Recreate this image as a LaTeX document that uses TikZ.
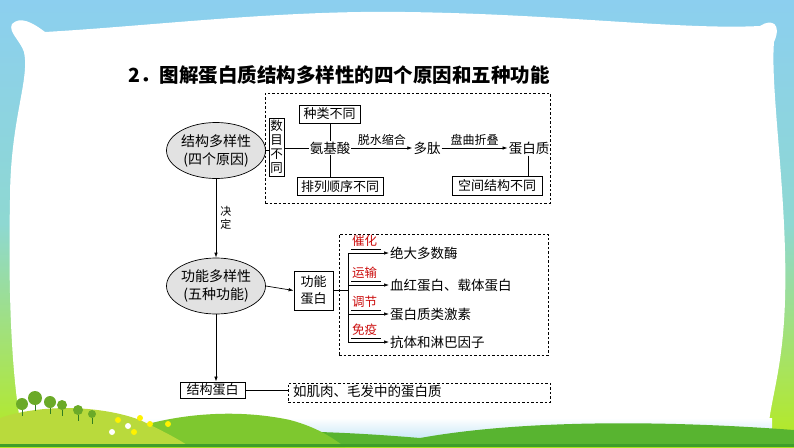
\documentclass[tikz,border=0pt]{standalone}
\usepackage{fontspec}
\setmainfont{Noto Sans CJK SC}
\usetikzlibrary{arrows.meta,shapes.geometric,calc}
\definecolor{sky}{HTML}{8CCFEF}
\definecolor{sidemid}{HTML}{8ED8D2}
\definecolor{lime}{HTML}{B6EA1E}
\definecolor{lbred}{HTML}{CC1010}
\definecolor{ellgray}{HTML}{E2E2E2}
\definecolor{hillA}{HTML}{B9DA3C}
\definecolor{hillB}{HTML}{7EC82F}
\definecolor{hillC}{HTML}{58B430}
\definecolor{hillD}{HTML}{3E9E2A}
\definecolor{skyband}{HTML}{C6E6F6}
\tikzset{
  ell/.style={ellipse,draw,line width=0.7pt,fill=ellgray,minimum width=88pt,minimum height=56pt,inner sep=0pt,align=center,font=\fontsize{14}{18}\selectfont},
  bx/.style={draw,line width=0.8pt,inner sep=0pt,align=center,font=\fontsize{13}{15}\selectfont},
  dbox/.style={draw,line width=0.7pt,dash pattern=on 2.5pt off 2pt,inner sep=0pt},
  txt/.style={inner sep=1pt,font=\fontsize{13.5}{15}\selectfont},
  lbl/.style={inner sep=0pt,font=\fontsize{12}{13}\selectfont},
  rlbl/.style={inner sep=0pt,text=lbred,font=\fontsize{12.5}{14}\selectfont},
  ln/.style={line width=0.7pt},
  arr/.style={line width=0.7pt,-{Latex[length=5pt,width=3.5pt]}},
}
\begin{document}
\begin{tikzpicture}[x=1pt,y=-1pt]
\useasboundingbox (0,0) rectangle (794,447);
% ---------- background ----------
\shade[top color=sky,bottom color=lime,middle color=sidemid] (0,0) rectangle (794,447);
\fill[white] (12,24) .. controls (20,16) and (32,22) .. (45,32)
  .. controls (150,26) and (280,10) .. (405,12)
  .. controls (560,14) and (680,30) .. (760,26)
  .. controls (772,18) and (782,24) .. (774,42)
  .. controls (770,90) and (788,200) .. (785,300)
  .. controls (783,370) and (770,400) .. (768,432)
  -- (22,432)
  .. controls (12,380) and (8,300) .. (10,200)
  .. controls (10,120) and (30,80) .. (24,52)
  .. controls (20,40) and (8,32) .. (12,24) -- cycle;
\shade[top color=white,bottom color=skyband] (20,418) rectangle (772,440);
\fill[hillC] (120,447) .. controls (200,428) and (300,428) .. (420,438)
  .. controls (520,420) and (660,420) .. (794,430) -- (794,447) -- cycle;
\fill[hillB] (90,447) .. controls (140,418) and (220,405) .. (290,420)
  .. controls (320,428) and (335,440) .. (345,447) -- cycle;
\fill[hillA] (0,447) -- (0,418) .. controls (40,404) and (100,405) .. (140,420)
  .. controls (165,432) and (180,440) .. (190,447) -- cycle;
\fill[hillD] (0,444) rectangle (794,447);
\foreach \x/\y/\r in {22/404/6,35/398/7,50/402/6,62/405/5,78/410/5,92/414/4}{
  \fill[hillD!80!black] (\x,\y+\r) rectangle (\x+0.8,\y+\r+6);
  \fill[hillB!85!black] (\x,\y) circle (\r);}
\foreach \x/\y/\c in {118/420/yellow,128/426/white,140/418/yellow,150/424/yellow,160/416/white,168/424/yellow,134/432/yellow,112/432/white}{
  \fill[\c] (\x,\y) circle (3);}
% ---------- title ----------
\node[anchor=west,inner sep=0pt,font=\fontsize{19.5}{22}\selectfont\bfseries] (title) at (128,75) {2．图解蛋白质结构多样性的四个原因和五种功能};
% ---------- upper part ----------
\node[ell] (e1) at (216,150.5) {结构多样性\\(四个原因)};
\node[dbox,minimum width=285pt,minimum height=110pt] (d1) at (407.5,148) {};
\node[bx,minimum width=15pt,minimum height=58pt,font=\fontsize{12.5}{14}\selectfont] (sm) at (276.5,147) {数\\目\\不\\同};
\node[txt] (aa) at (330,148) {氨基酸};
\node[bx,minimum width=61pt,minimum height=18pt] (zl) at (329.5,114) {种类不同};
\node[bx,minimum width=86pt,minimum height=18pt] (pl) at (340,186.5) {排列顺序不同};
\node[txt] (dt) at (427,148) {多肽};
\node[txt] (dbz) at (529,148) {蛋白质};
\node[bx,minimum width=90pt,minimum height=19pt] (kj) at (497,186) {空间结构不同};
\draw[ln] (e1.east) -- (sm.west |- e1.east);
\draw[ln] (sm.east |- aa.west) -- (aa.west);
\draw[ln] (aa.north) -- (aa.north |- zl.south);
\draw[ln] (aa.south) -- (aa.south |- pl.north);
\draw[arr] (aa.east) -- node[lbl,above=2pt] (l1) {脱水缩合} (dt.west);
\draw[arr] (dt.east) -- node[lbl,above=2pt] (l2) {盘曲折叠} (dbz.west);
\draw[ln] ([xshift=-1pt]dbz.south) -- ([xshift=-1pt]dbz.south |- kj.north);
% ---------- middle ----------
\node[ell] (e2) at (216,286) {功能多样性\\(五种功能)};
\draw[arr] (e1.south) -- node[lbl,right=4pt,align=center,font=\fontsize{11}{13}\selectfont] (jd) {决\\定} (e2.north);
\node[bx,minimum width=39pt,minimum height=39pt,font=\fontsize{13}{17}\selectfont] (gb) at (313.5,290.5) {功能\\蛋白};
\draw[arr] (e2.east) -- (gb.west);
\node[dbox,minimum width=209pt,minimum height=121pt] (d2) at (443.5,294.5) {};
\coordinate (vt) at (348,253);
\coordinate (vb) at (348,342);
\draw[ln] (vt) -- (vb);
\draw[ln] (gb.east) -- (gb.east -| vt);
\foreach \b/\lab/\t/\n in {253/催化/绝大多数酶/1,285/运输/血红蛋白、载体蛋白/2,314/调节/蛋白质类激素/3,342/免疫/抗体和淋巴因子/4}{
  \node[txt,anchor=west] (it\n) at (389,\b) {\t};
  \coordinate (br\n) at (348,\b);
  \node[rlbl] (rl\n) at (364.5,\b-12) {\lab};
  \draw[arr] (br\n) -- (it\n.west);
  \draw[ln] (351,\b-4) -- (381,\b-4);
}
% ---------- bottom ----------
\node[bx,minimum width=65pt,minimum height=16pt] (sb) at (212.5,390) {结构蛋白};
\draw[arr] (e2.south) -- (e2.south |- sb.north);
\node[dbox,minimum width=262pt,minimum height=19pt] (d3) at (419,392.5) {};
\node[txt,anchor=west] (tx3) at (292,391.5) {如肌肉、毛发中的蛋白质};
\draw[ln] (sb.east) -- (sb.east -| d3.west);
\end{tikzpicture}
\end{document}
